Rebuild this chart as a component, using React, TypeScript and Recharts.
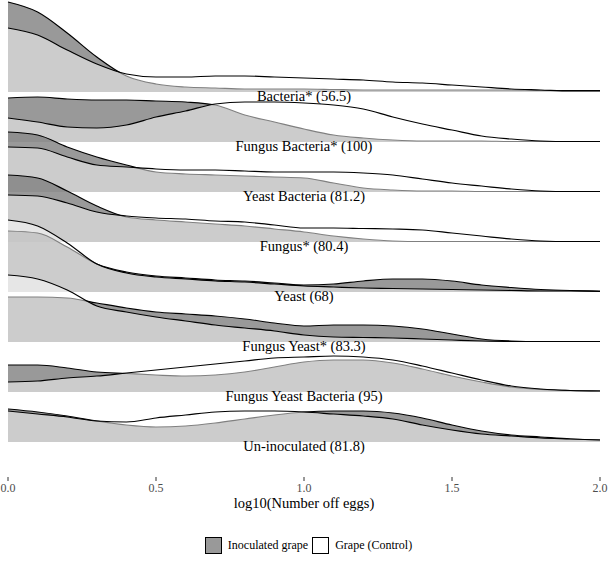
import React from 'react';
import { ComposedChart, Area, XAxis, YAxis, ReferenceLine, Legend } from 'recharts';

const FONT = 'Liberation Serif, Times New Roman, serif';

// x positions of the density estimates (log10 eggs)
const xValues = [0, 0.1, 0.2, 0.3, 0.4, 0.5, 0.6, 0.7, 0.8, 0.9, 1.0, 1.1, 1.2, 1.3, 1.4, 1.5, 1.6, 1.7, 1.8, 1.9, 2.0];
const xTicks = [0, 0.5, 1, 1.5, 2];

// ridge labels, top to bottom
const ridgeNames = [
  'Bacteria* (56.5)',
  'Fungus Bacteria* (100)',
  'Yeast Bacteria (81.2)',
  'Fungus* (80.4)',
  'Yeast (68)',
  'Fungus Yeast* (83.3)',
  'Fungus Yeast Bacteria (95)',
  'Un-inoculated (81.8)',
];

// scaled density heights (1 = one ridge spacing)
const bacteriaInoc = [1.80, 1.60, 1.18, 0.70, 0.32, 0.16, 0.10, 0.08, 0.06, 0.06, 0.06, 0.05, 0.04, 0.04, 0.04, 0.04, 0.04, 0.04, 0.03, 0.03, 0.03];
const bacteriaCtrl = [1.28, 1.14, 0.84, 0.56, 0.36, 0.30, 0.30, 0.32, 0.32, 0.30, 0.28, 0.26, 0.24, 0.20, 0.18, 0.14, 0.10, 0.06, 0.04, 0.02, 0.02];

const fungusBacteriaInoc = [0.88, 0.90, 0.86, 0.84, 0.84, 0.82, 0.80, 0.74, 0.54, 0.40, 0.26, 0.14, 0.08, 0.04, 0.02, 0.02, 0.02, 0.01, 0.01, 0.01, 0.01];
const fungusBacteriaCtrl = [0.48, 0.40, 0.30, 0.28, 0.34, 0.50, 0.62, 0.76, 0.80, 0.80, 0.78, 0.74, 0.66, 0.50, 0.36, 0.24, 0.12, 0.06, 0.02, 0.01, 0.01];

const yeastBacteriaInoc = [1.20, 1.14, 0.90, 0.70, 0.54, 0.40, 0.36, 0.34, 0.32, 0.30, 0.28, 0.18, 0.08, 0.04, 0.02, 0.02, 0.01, 0.01, 0.01, 0.01, 0.01];
const yeastBacteriaCtrl = [0.90, 0.88, 0.70, 0.54, 0.50, 0.46, 0.44, 0.44, 0.42, 0.40, 0.40, 0.40, 0.38, 0.34, 0.26, 0.18, 0.12, 0.06, 0.02, 0.01, 0.01];

const fungusInoc = [1.34, 1.28, 1.02, 0.72, 0.50, 0.44, 0.40, 0.36, 0.32, 0.26, 0.20, 0.12, 0.06, 0.02, 0.01, 0.01, 0.01, 0.01, 0.01, 0.01, 0.01];
const fungusCtrl = [0.94, 0.92, 0.78, 0.60, 0.52, 0.48, 0.46, 0.42, 0.40, 0.34, 0.28, 0.28, 0.27, 0.26, 0.24, 0.18, 0.12, 0.06, 0.02, 0.01, 0.01];

const yeastInoc = [1.22, 1.18, 0.90, 0.56, 0.40, 0.32, 0.28, 0.24, 0.22, 0.18, 0.14, 0.16, 0.22, 0.26, 0.26, 0.22, 0.14, 0.09, 0.05, 0.03, 0.02];
const yeastCtrl = [1.44, 1.32, 0.98, 0.56, 0.38, 0.30, 0.26, 0.22, 0.20, 0.16, 0.12, 0.10, 0.08, 0.07, 0.06, 0.05, 0.04, 0.03, 0.02, 0.02, 0.01];

const fungusYeastInoc = [0.90, 0.90, 0.88, 0.78, 0.68, 0.60, 0.56, 0.52, 0.46, 0.38, 0.32, 0.34, 0.34, 0.32, 0.26, 0.16, 0.06, 0.02, 0.01, 0.01, 0.01];
const fungusYeastCtrl = [1.34, 1.26, 1.04, 0.72, 0.60, 0.50, 0.42, 0.34, 0.28, 0.22, 0.14, 0.10, 0.09, 0.08, 0.06, 0.04, 0.02, 0.01, 0.01, 0.01, 0.01];

const fybInoc = [0.54, 0.54, 0.48, 0.40, 0.37, 0.34, 0.32, 0.34, 0.40, 0.50, 0.60, 0.64, 0.64, 0.58, 0.46, 0.32, 0.20, 0.10, 0.05, 0.03, 0.02];
const fybCtrl = [0.20, 0.22, 0.28, 0.32, 0.38, 0.44, 0.50, 0.56, 0.62, 0.68, 0.70, 0.72, 0.70, 0.64, 0.52, 0.38, 0.24, 0.12, 0.06, 0.03, 0.02];

const uninocInoc = [0.66, 0.60, 0.52, 0.42, 0.34, 0.30, 0.32, 0.38, 0.46, 0.54, 0.60, 0.62, 0.62, 0.58, 0.48, 0.34, 0.22, 0.14, 0.10, 0.06, 0.04];
const uninocCtrl = [0.62, 0.56, 0.50, 0.42, 0.40, 0.48, 0.54, 0.60, 0.62, 0.62, 0.60, 0.56, 0.52, 0.46, 0.34, 0.24, 0.16, 0.12, 0.08, 0.06, 0.04];

const inocSeries = [bacteriaInoc, fungusBacteriaInoc, yeastBacteriaInoc, fungusInoc, yeastInoc, fungusYeastInoc, fybInoc, uninocInoc];
const ctrlSeries = [bacteriaCtrl, fungusBacteriaCtrl, yeastBacteriaCtrl, fungusCtrl, yeastCtrl, fungusYeastCtrl, fybCtrl, uninocCtrl];

// baseline of each ridge, top ridge highest
const bases = ridgeNames.map((_, i) => ridgeNames.length - 1 - i);

const chartData = xValues.map((x, j) => {
  const row: any = { x };
  ridgeNames.forEach((_, i) => {
    row[`inoc${i}`] = bases[i] + inocSeries[i][j];
    row[`ctrl${i}`] = bases[i] + ctrlSeries[i][j];
  });
  return row;
});

const LegendContent = () => (
  <div style={{ display: 'flex', justifyContent: 'center', alignItems: 'center', fontFamily: FONT, fontSize: 12, color: '#000', paddingLeft: 9 }}>
    <span style={{ width: 17, height: 17, boxSizing: 'border-box', border: '1.5px solid #000', background: '#999999' }} />
    <span style={{ marginLeft: 6, marginRight: 4 }}>Inoculated grape</span>
    <span style={{ width: 17, height: 17, boxSizing: 'border-box', border: '1.5px solid #000', background: '#ffffff' }} />
    <span style={{ marginLeft: 6 }}>Grape (Control)</span>
  </div>
);

export default function App() {
  return (
    <div style={{ position: 'absolute', left: 0, top: 0, fontFamily: FONT }}>
      <ComposedChart width={609} height={561} data={chartData} margin={{ top: 0, right: 9, bottom: 0, left: 8 }}>
        <XAxis
          dataKey="x"
          type="number"
          domain={[0, 2]}
          ticks={xTicks}
          tickFormatter={(v: number) => v.toFixed(1)}
          axisLine={false}
          tickLine={{ stroke: '#333' }}
          tickSize={4}
          tickMargin={2}
          height={60}
          tick={{ fill: '#4d4d4d', fontSize: 12, fontFamily: FONT }}
          label={{ value: 'log10(Number off eggs)', position: 'insideTop', offset: 21, fill: '#000', fontSize: 14.5, fontFamily: FONT }}
        />
        <YAxis hide type="number" domain={[-0.7, 8.84]} allowDataOverflow />
        <Legend verticalAlign="bottom" height={24} content={<LegendContent />} />

        {ridgeNames.flatMap((name, i) => [
          <Area
            key={`inoc-${name}`}
            dataKey={`inoc${i}`}
            baseValue={bases[i]}
            type="monotone"
            fill="#7f7f7f"
            fillOpacity={0.8}
            stroke="#000"
            strokeWidth={1.2}
            dot={false}
            activeDot={false}
            isAnimationActive={false}
          />,
          <Area
            key={`ctrl-${name}`}
            dataKey={`ctrl${i}`}
            baseValue={bases[i]}
            type="monotone"
            fill="#ffffff"
            fillOpacity={0.5}
            stroke="#000"
            strokeWidth={1.2}
            dot={false}
            activeDot={false}
            isAnimationActive={false}
          />,
        ])}

        {ridgeNames.map((name, i) => (
          <ReferenceLine
            key={`label-${name}`}
            y={bases[i]}
            stroke="none"
            label={{ value: name, position: 'bottom', offset: -1, fill: '#000', fontSize: 14.5, fontFamily: FONT }}
          />
        ))}
      </ComposedChart>
    </div>
  );
}
